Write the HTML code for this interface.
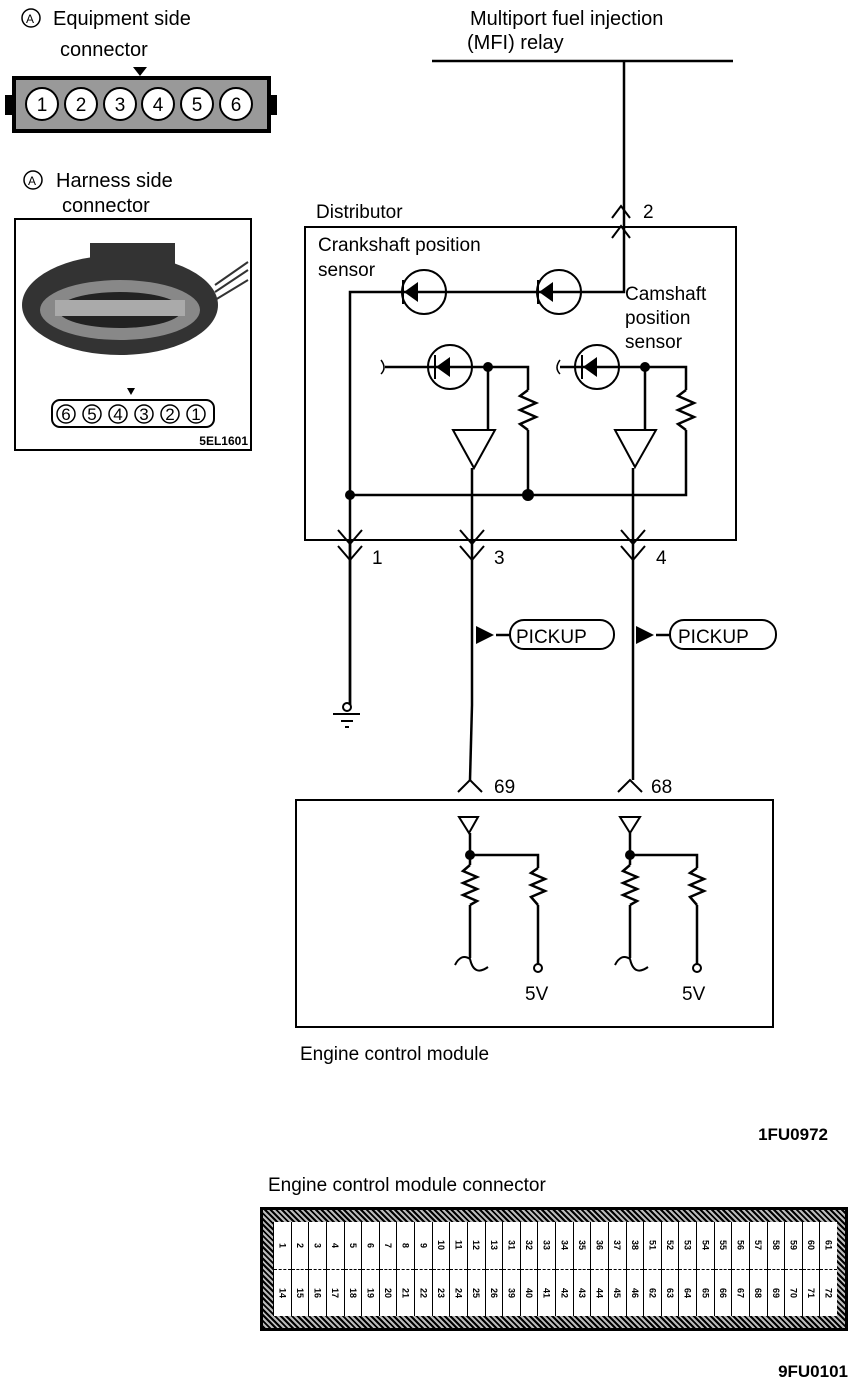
<!DOCTYPE html>
<html><head><meta charset="utf-8"><style>
body{margin:0;background:#fff;width:864px;height:1386px;overflow:hidden;position:relative;font-family:"Liberation Sans",sans-serif}
svg{position:absolute;left:0;top:0}
.ecm{position:absolute;left:260px;top:1207px;width:588px;height:124px;background:repeating-linear-gradient(45deg,#000 0 2px,#bbb 2px 4px);box-sizing:border-box;border:3px solid #000}
.in{position:absolute;left:10px;top:12px;width:564px;height:94px;background:#fff;display:flex}
.col{flex:1;border-left:1.5px solid #000;display:flex;flex-direction:column}
.col div{flex:1;display:flex;align-items:center;justify-content:center;font-size:9px;font-weight:bold;writing-mode:vertical-rl}
.col div:first-child{border-bottom:1.5px dashed #000}
</style></head><body>
<svg width="864" height="1386" viewBox="0 0 864 1386" font-family="Liberation Sans, sans-serif">
<g fill="none" stroke="#000" stroke-width="2">
<!-- left top -->
<circle cx="31" cy="18" r="9" stroke-width="1.5"/>
<circle cx="33" cy="180" r="9" stroke-width="1.5"/>
</g>
<text x="26" y="23" font-size="12">A</text>
<text x="28" y="185" font-size="12">A</text>
<text x="53" y="25" font-size="20">Equipment side</text>
<text x="60" y="56" font-size="20">connector</text>
<text x="56" y="187" font-size="20">Harness side</text>
<text x="62" y="212" font-size="20">connector</text>
<polygon points="133,67 147,67 140,76" fill="#000"/>
<rect x="12" y="76" width="259" height="57" fill="#000"/>
<rect x="16" y="80" width="251" height="49" fill="#999"/>
<rect x="5" y="95" width="9" height="20" fill="#000"/><rect x="268" y="95" width="9" height="20" fill="#000"/>
<g fill="#fff" stroke="#000" stroke-width="2">
<circle cx="42" cy="104" r="16"/><circle cx="81" cy="104" r="16"/><circle cx="120" cy="104" r="16"/><circle cx="158" cy="104" r="16"/><circle cx="197" cy="104" r="16"/><circle cx="236" cy="104" r="16"/>
</g>
<g font-size="19" text-anchor="middle"><text x="42" y="111">1</text><text x="81" y="111">2</text><text x="120" y="111">3</text><text x="158" y="111">4</text><text x="197" y="111">5</text><text x="236" y="111">6</text></g>
<rect x="15" y="219" width="236" height="231" fill="none" stroke="#000" stroke-width="2"/>
<ellipse cx="120" cy="305" rx="98" ry="50" fill="#333"/>
<rect x="90" y="243" width="85" height="30" fill="#333"/>
<ellipse cx="120" cy="310" rx="80" ry="30" fill="#888"/>
<ellipse cx="120" cy="310" rx="62" ry="18" fill="#222"/>
<rect x="55" y="300" width="130" height="16" fill="#aaa"/>
<path d="M215 285 L248 262 M215 292 L248 270 M215 300 L248 280" stroke="#333" stroke-width="2"/>
<polygon points="127,388 135,388 131,395" fill="#000"/>
<rect x="52" y="400" width="162" height="27" rx="8" fill="#fff" stroke="#000" stroke-width="2"/>
<g font-size="17" text-anchor="middle"><text x="66" y="420">6</text><text x="92" y="420">5</text><text x="118" y="420">4</text><text x="144" y="420">3</text><text x="170" y="420">2</text><text x="196" y="420">1</text></g>
<g stroke="#000" stroke-width="1.5" fill="none"><circle cx="66" cy="414" r="9"/><circle cx="92" cy="414" r="9"/><circle cx="118" cy="414" r="9"/><circle cx="144" cy="414" r="9"/><circle cx="170" cy="414" r="9"/><circle cx="196" cy="414" r="9"/></g>
<text x="248" y="445" font-size="12" font-weight="bold" text-anchor="end">5EL1601</text>

<!-- top -->
<text x="470" y="25" font-size="20">Multiport fuel injection</text>
<text x="467" y="49" font-size="20">(MFI) relay</text>
<g fill="none" stroke="#000" stroke-width="2.5">
<line x1="432" y1="61" x2="733" y2="61"/>
<path d="M624 61 V292 H350 V705"/>
<rect x="305" y="227" width="431" height="313" stroke-width="2"/>
<path d="M612 238 L621 226 L630 238" stroke-width="2"/>
<path d="M612 218 L621 206 L630 218" stroke-width="2"/>
<circle cx="424" cy="292" r="22" stroke-width="2"/><circle cx="559" cy="292" r="22" stroke-width="2"/>
<path d="M385 367 H528 V390 M488 367 V430 M528 430 V495 M350 495 H686 V430 M560 367 H686 V390 M645 367 V430 M472 468 V705 M633 468 V780"/>
<circle cx="450" cy="367" r="22" stroke-width="2"/><circle cx="597" cy="367" r="22" stroke-width="2"/>
<polyline points="528,390 520,396 536,403 520,410 536,417 520,424 528,430" stroke-width="2.5"/>
<polyline points="686,390 678,396 694,403 678,410 694,417 678,424 686,430" stroke-width="2.5"/>
<polygon points="453,430 495,430 474,468" stroke-width="2"/>
<polygon points="615,430 656,430 635,467" stroke-width="2"/>
<path d="M381 360 q6 8 0 14 M560 360 q-6 8 0 14" stroke-width="1.5"/>
<path d="M338 530 L350 544 L362 530 M338 546 L350 560 L362 546" stroke-width="2"/>
<path d="M460 530 L472 544 L484 530 M460 546 L472 560 L484 546" stroke-width="2"/>
<path d="M621 530 L633 544 L645 530 M621 546 L633 560 L645 546" stroke-width="2"/>
<line x1="350" y1="544" x2="350" y2="705"/>
<line x1="472" y1="705" x2="470" y2="780"/>
<circle cx="347" cy="707" r="4" stroke-width="2"/>
<path d="M333 714 H360 M341 721 H353 M345 727 H349" stroke-width="2"/>
<line x1="496" y1="635" x2="510" y2="635"/><line x1="656" y1="635" x2="670" y2="635"/>
<rect x="510" y="620" width="104" height="29" rx="14" stroke-width="2"/>
<rect x="670" y="620" width="106" height="29" rx="14" stroke-width="2"/>
<path d="M458 792 L470 780 L482 792 M618 792 L630 780 L642 792" stroke-width="2"/>
<rect x="296" y="800" width="477" height="227" stroke-width="2"/>
<polygon points="459,817 478,817 469,833" stroke-width="2"/><polygon points="620,817 640,817 630,833" stroke-width="2"/>
<path d="M470 833 V865 M470 855 H538 V868 M538 905 V965 M470 905 V958 M630 833 V865 M630 855 H697 V868 M697 905 V965 M630 905 V958"/>
<polyline points="470,865 463,871 477,877 463,883 477,889 463,895 477,901 470,905"/>
<polyline points="538,868 531,873 545,879 531,885 545,891 531,897 538,905"/>
<polyline points="630,865 623,871 637,877 623,883 637,889 623,895 637,901 630,905"/>
<polyline points="697,868 690,873 704,879 690,885 704,891 690,897 697,905"/>
<path d="M455 965 q6 -12 15 -6 q4 18 18 8 M615 965 q6 -12 15 -6 q4 18 18 8" stroke-width="2"/>
<circle cx="538" cy="968" r="4" stroke-width="2"/><circle cx="697" cy="968" r="4" stroke-width="2"/>
</g>
<g fill="#000">
<polygon points="404,292 418,282 418,302"/><polygon points="539,292 553,282 553,302"/>
<polygon points="436,367 450,357 450,377"/><polygon points="583,367 597,357 597,377"/>
<rect x="402" y="280" width="2" height="24"/><rect x="537" y="280" width="2" height="24"/>
<rect x="434" y="355" width="2" height="24"/><rect x="581" y="355" width="2" height="24"/>
<circle cx="488" cy="367" r="5"/><circle cx="645" cy="367" r="5"/><circle cx="350" cy="495" r="5"/><circle cx="528" cy="495" r="6"/>
<circle cx="470" cy="855" r="5"/><circle cx="630" cy="855" r="5"/>
<polygon points="476,626 476,644 494,635"/><polygon points="636,626 636,644 654,635"/>
</g>
<g font-size="19">
<text x="316" y="218">Distributor</text>
<text x="643" y="218">2</text>
<text x="318" y="251">Crankshaft position</text>
<text x="318" y="276">sensor</text>
<text x="625" y="300">Camshaft</text>
<text x="625" y="324">position</text>
<text x="625" y="348">sensor</text>
<text x="372" y="564">1</text><text x="494" y="564">3</text><text x="656" y="564">4</text>
<text x="516" y="643">PICKUP</text><text x="678" y="643">PICKUP</text>
<text x="494" y="793">69</text><text x="651" y="793">68</text>
<text x="525" y="1000">5V</text><text x="682" y="1000">5V</text>
<text x="300" y="1060">Engine control module</text>
<text x="268" y="1191">Engine control module connector</text>
</g>
<text x="828" y="1140" font-size="17" font-weight="bold" text-anchor="end">1FU0972</text>
<text x="848" y="1377" font-size="17" font-weight="bold" text-anchor="end">9FU0101</text>
</svg>
<div class="ecm"><div class="in">
<div class="col"><div>1</div><div>14</div></div><div class="col"><div>2</div><div>15</div></div><div class="col"><div>3</div><div>16</div></div><div class="col"><div>4</div><div>17</div></div><div class="col"><div>5</div><div>18</div></div><div class="col"><div>6</div><div>19</div></div><div class="col"><div>7</div><div>20</div></div><div class="col"><div>8</div><div>21</div></div><div class="col"><div>9</div><div>22</div></div><div class="col"><div>10</div><div>23</div></div><div class="col"><div>11</div><div>24</div></div><div class="col"><div>12</div><div>25</div></div><div class="col"><div>13</div><div>26</div></div>
<div class="col"><div>31</div><div>39</div></div><div class="col"><div>32</div><div>40</div></div><div class="col"><div>33</div><div>41</div></div><div class="col"><div>34</div><div>42</div></div><div class="col"><div>35</div><div>43</div></div><div class="col"><div>36</div><div>44</div></div><div class="col"><div>37</div><div>45</div></div><div class="col"><div>38</div><div>46</div></div>
<div class="col"><div>51</div><div>62</div></div><div class="col"><div>52</div><div>63</div></div><div class="col"><div>53</div><div>64</div></div><div class="col"><div>54</div><div>65</div></div><div class="col"><div>55</div><div>66</div></div><div class="col"><div>56</div><div>67</div></div><div class="col"><div>57</div><div>68</div></div><div class="col"><div>58</div><div>69</div></div><div class="col"><div>59</div><div>70</div></div><div class="col"><div>60</div><div>71</div></div><div class="col"><div>61</div><div>72</div></div>
</div></div>
</body></html>
